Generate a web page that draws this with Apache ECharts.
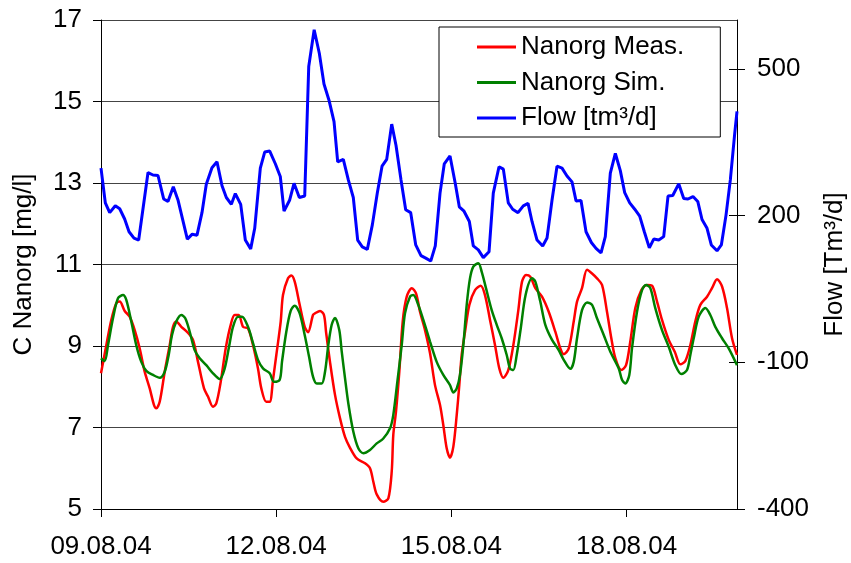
<!DOCTYPE html>
<html>
<head>
<meta charset="utf-8">
<script src="https://cdn.jsdelivr.net/npm/echarts@6/dist/echarts.min.js"></script>
<style>
html,body{margin:0;padding:0;background:#fff;}
#chart{width:851px;height:563px;}
</style>
</head>
<body>
<div id="chart"></div>
<script>
// x values are days since 09.08.04 00:00
var xTickLabels = ['09.08.04', '12.08.04', '15.08.04', '18.08.04'];
var xTickDays = [0, 3, 6, 9];
var rightTicks = [-400, -100, 200, 500];

var flowDays = [0.0,0.074,0.149,0.245,0.32,0.405,0.48,0.565,0.645,0.805,0.89,0.976,1.073,1.147,1.238,1.318,1.478,1.563,1.644,1.729,1.803,1.9,1.986,2.072,2.146,2.232,2.3,2.392,2.471,2.563,2.632,2.728,2.803,2.889,2.985,3.07,3.134,3.231,3.305,3.396,3.488,3.557,3.65,3.738,3.818,3.904,3.99,4.053,4.149,4.235,4.32,4.395,4.474,4.56,4.646,4.731,4.812,4.892,4.978,5.051,5.137,5.217,5.303,5.389,5.479,5.56,5.646,5.724,5.805,5.878,5.976,6.067,6.135,6.216,6.307,6.375,6.461,6.546,6.644,6.717,6.815,6.889,6.974,7.049,7.14,7.231,7.312,7.38,7.466,7.563,7.637,7.723,7.808,7.894,7.979,8.065,8.134,8.219,8.305,8.396,8.476,8.562,8.635,8.721,8.807,8.892,8.967,9.053,9.139,9.224,9.303,9.389,9.464,9.55,9.635,9.709,9.79,9.892,9.978,10.051,10.137,10.218,10.291,10.377,10.45,10.548,10.622,10.702,10.776,10.851,10.89];
var flowValues = [297,226,206,220,214,193,167,154,150,288,283,282,234,229,259,232,152,162,160,206,264,298,310,261,237,223,245,223,150,132,174,297,330,332,306,280,209,232,266,237,240,505,580,532,469,436,392,310,315,273,237,150,136,131,181,246,301,315,387,344,273,212,206,140,118,113,107,138,246,306,322,265,218,209,188,138,130,114,126,246,300,295,226,213,206,220,225,188,150,138,154,232,301,297,281,269,230,231,167,145,133,124,157,287,327,292,247,226,213,199,167,134,152,150,157,240,241,265,235,234,239,229,192,174,140,128,140,201,273,368,413];

var measDays = [0.0,0.091,0.176,0.262,0.32,0.406,0.491,0.577,0.663,0.748,0.834,0.908,0.947,1.005,1.091,1.176,1.233,1.289,1.375,1.478,1.575,1.661,1.764,1.832,1.918,1.974,2.05,2.135,2.221,2.289,2.358,2.432,2.517,2.603,2.688,2.745,2.83,2.889,2.945,3.002,3.077,3.116,3.202,3.259,3.317,3.402,3.488,3.545,3.63,3.664,3.75,3.818,3.853,3.921,4.007,4.092,4.178,4.264,4.378,4.521,4.606,4.663,4.721,4.834,4.92,4.978,5.005,5.051,5.108,5.166,5.235,5.32,5.394,5.462,5.548,5.634,5.719,5.805,5.861,5.919,5.976,6.033,6.091,6.135,6.176,6.233,6.307,6.404,6.502,6.575,6.661,6.747,6.82,6.889,6.974,7.06,7.146,7.209,7.277,7.351,7.437,7.551,7.666,7.779,7.865,7.923,8.009,8.094,8.151,8.236,8.322,8.408,8.493,8.579,8.664,8.738,8.807,8.909,8.99,9.063,9.149,9.252,9.349,9.435,9.521,9.606,9.721,9.824,9.92,10.005,10.091,10.176,10.262,10.377,10.462,10.548,10.634,10.719,10.805,10.89];
var measValues = [8.33,9.02,9.64,10.05,10.09,9.86,9.72,9.39,8.94,8.37,7.96,7.55,7.47,7.63,8.37,9.02,9.47,9.6,9.47,9.34,9.15,8.61,7.96,7.76,7.51,7.59,8.12,8.94,9.52,9.76,9.76,9.47,9.43,9.02,8.45,7.96,7.63,7.63,8.17,8.78,9.6,10.25,10.66,10.73,10.58,10.01,9.47,9.34,9.76,9.8,9.86,9.76,9.35,8.61,7.8,7.23,6.77,6.5,6.24,6.12,6.0,5.67,5.36,5.18,5.26,5.92,6.82,7.39,8.37,9.6,10.21,10.42,10.29,9.84,9.39,8.82,8.04,7.55,7.06,6.49,6.26,6.53,7.31,8.04,8.78,9.35,10.01,10.37,10.48,10.25,9.64,9.02,8.45,8.22,8.41,9.02,9.88,10.58,10.74,10.7,10.42,10.21,9.84,9.35,8.94,8.8,8.94,9.6,10.09,10.42,10.87,10.78,10.66,10.5,9.84,9.19,8.7,8.41,8.53,9.11,9.93,10.37,10.5,10.48,10.09,9.64,9.15,8.86,8.55,8.63,9.02,9.6,10.01,10.21,10.42,10.64,10.46,9.93,9.19,8.78];

var simDays = [0.0,0.063,0.12,0.205,0.291,0.377,0.433,0.519,0.604,0.69,0.776,0.89,1.005,1.091,1.159,1.216,1.289,1.375,1.443,1.519,1.604,1.69,1.803,1.918,2.033,2.118,2.192,2.26,2.346,2.414,2.517,2.603,2.688,2.774,2.889,2.962,3.06,3.099,3.173,3.248,3.317,3.402,3.488,3.562,3.63,3.694,3.779,3.836,3.892,3.95,4.007,4.08,4.122,4.178,4.235,4.32,4.406,4.491,4.606,4.721,4.834,4.949,5.005,5.074,5.149,5.205,5.291,5.348,5.433,5.519,5.634,5.748,5.861,5.976,6.033,6.091,6.147,6.204,6.262,6.318,6.375,6.461,6.519,6.592,6.69,6.776,6.861,6.947,7.003,7.06,7.118,7.187,7.27,7.38,7.437,7.522,7.608,7.723,7.837,7.923,8.036,8.094,8.151,8.236,8.322,8.408,8.493,8.608,8.721,8.865,8.921,8.978,9.046,9.092,9.178,9.264,9.332,9.406,9.491,9.606,9.721,9.834,9.937,10.034,10.091,10.149,10.235,10.348,10.433,10.519,10.634,10.748,10.89];
var simValues = [8.7,8.63,9.02,9.68,10.17,10.25,10.13,9.6,9.02,8.61,8.39,8.29,8.22,8.37,8.78,9.27,9.6,9.76,9.68,9.35,8.9,8.7,8.53,8.33,8.19,8.45,8.98,9.47,9.72,9.72,9.47,9.07,8.66,8.45,8.33,8.12,8.17,8.61,9.35,9.86,9.99,9.8,9.27,8.74,8.25,8.08,8.08,8.37,9.02,9.52,9.69,9.39,8.86,8.21,7.59,6.9,6.49,6.37,6.45,6.61,6.73,6.98,7.31,8.12,9.02,9.8,10.21,10.25,10.01,9.64,9.11,8.61,8.29,8.04,7.86,7.96,8.29,9.02,10.01,10.66,10.95,11.03,10.82,10.42,9.88,9.52,9.19,8.78,8.45,8.41,8.78,9.43,10.25,10.66,10.58,10.09,9.52,9.15,8.9,8.66,8.44,8.61,9.19,9.88,10.07,10.01,9.68,9.27,8.86,8.45,8.17,8.08,8.29,8.94,9.84,10.37,10.5,10.42,9.93,9.39,8.98,8.53,8.31,8.41,8.78,9.19,9.72,9.93,9.76,9.47,9.19,8.94,8.53];

function zip(a, b) { return a.map(function (v, i) { return [v, b[i]]; }); }

var FONT = "'Liberation Sans', Arial, sans-serif";
var chart = echarts.init(document.getElementById('chart'), null, { renderer: 'canvas' });
chart.setOption({
  animation: false,
  backgroundColor: '#fff',
  textStyle: { fontFamily: FONT },
  grid: { left: 101, right: 114, top: 20, bottom: 54, containLabel: false, outerBoundsMode: 'none' },
  legend: {
    left: 439, top: 27, orient: 'vertical',
    backgroundColor: '#fff', borderColor: '#000', borderWidth: 1,
    padding: [5, 36, 4, 38],
    itemWidth: 39, itemHeight: 3, itemGap: 5.5, icon: 'rect',
    textStyle: { fontSize: 26, lineHeight: 30, color: '#000', fontFamily: FONT },
    data: ['Nanorg Meas.', 'Nanorg Sim.', 'Flow [tm³/d]']
  },
  xAxis: {
    type: 'value', min: 0, max: 10.89, interval: 3,
    axisLine: { show: true, onZero: false, lineStyle: { color: '#000', width: 1 } },
    axisTick: { show: true, length: 8, lineStyle: { color: '#000' }, customValues: xTickDays },
    axisLabel: {
      color: '#000', fontSize: 26, fontFamily: FONT, margin: 25,
      customValues: xTickDays,
      formatter: function (v) { var i = xTickDays.indexOf(Math.round(v)); return i >= 0 ? xTickLabels[i] : ''; }
    },
    splitLine: { show: false }
  },
  yAxis: [
    {
      type: 'value', min: 5, max: 17, interval: 2, position: 'left',
      name: 'C Nanorg [mg/l]', nameLocation: 'middle', nameRotate: 90, nameGap: 64,
      nameTextStyle: { color: '#000', fontSize: 26, fontFamily: FONT },
      axisLine: { show: true, lineStyle: { color: '#000', width: 1 } },
      axisTick: { show: true, length: 8, lineStyle: { color: '#000' } },
      axisLabel: { color: '#000', fontSize: 26, fontFamily: FONT, margin: 19 },
      splitLine: { show: true, lineStyle: { color: '#444', width: 1 } }
    },
    {
      type: 'value', min: -400, max: 600, interval: 300, position: 'right',
      name: 'Flow [Tm³/d]', nameLocation: 'middle', nameRotate: 90, nameGap: 85,
      nameTextStyle: { color: '#000', fontSize: 26, fontFamily: FONT },
      axisLine: { show: true, lineStyle: { color: '#000', width: 1 } },
      axisTick: { show: true, length: 8, lineStyle: { color: '#000' }, customValues: rightTicks },
      axisLabel: { color: '#000', fontSize: 26, fontFamily: FONT, margin: 20, customValues: rightTicks },
      splitLine: { show: false }
    },
    {
      type: 'value', min: -400, max: 600, interval: 300, position: 'right',
      axisLine: { show: false },
      axisTick: { show: true, inside: true, length: 8, lineStyle: { color: '#000' }, customValues: rightTicks },
      axisLabel: { show: false },
      splitLine: { show: false }
    }
  ],
  series: [
    {
      name: 'Nanorg Meas.', type: 'line', yAxisIndex: 0, data: zip(measDays, measValues),
      showSymbol: false, smooth: 0.3, color: '#ff0000',
      lineStyle: { color: '#ff0000', width: 2.5 }
    },
    {
      name: 'Nanorg Sim.', type: 'line', yAxisIndex: 0, data: zip(simDays, simValues),
      showSymbol: false, smooth: 0.3, color: '#008000',
      lineStyle: { color: '#008000', width: 2.5 }
    },
    {
      name: 'Flow [tm³/d]', type: 'line', yAxisIndex: 1, data: zip(flowDays, flowValues),
      showSymbol: false, smooth: false, color: '#0000ff',
      lineStyle: { color: '#0000ff', width: 3 }
    }
  ]
});
</script>
</body>
</html>
